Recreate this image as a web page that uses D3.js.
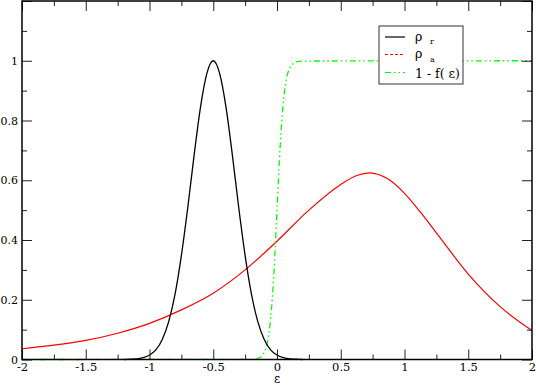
<!DOCTYPE html>
<html>
<head>
<meta charset="utf-8">
<script src="https://cdn.jsdelivr.net/npm/d3@7"></script>
<style>
  body { margin: 0; background: #fff; }
  svg { display: block; font-family: "DejaVu Serif", serif; }
</style>
</head>
<body>
<svg id="chart" width="536" height="385"></svg>
<script>
// rho_r (black)
const rhoRX = [-1.2, -1.15, -1.1, -1.05, -1.0, -0.95, -0.9, -0.85, -0.8, -0.75, -0.7, -0.65, -0.6, -0.55, -0.5,
  -0.45, -0.4, -0.35, -0.3, -0.25, -0.2, -0.15, -0.1, -0.05, 0.0, 0.05, 0.1, 0.15, 0.2]
const rhoRY = [0, 0.001, 0.002, 0.006, 0.015, 0.032, 0.067, 0.126, 0.218, 0.348, 0.508, 0.684, 0.845, 0.958, 1.0,
  0.958, 0.845, 0.684, 0.508, 0.348, 0.218, 0.126, 0.067, 0.032, 0.015, 0.006, 0.002, 0.001, 0]

// rho_a (red)
const rhoAX = [-2, -1.75, -1.5, -1.25, -1, -0.75, -0.5, -0.25, 0, 0.25, 0.5, 0.625, 0.725, 0.875, 1, 1.125, 1.25, 1.5, 1.75, 2]
const rhoAY = [0.036, 0.048, 0.064, 0.088, 0.121, 0.166, 0.222, 0.300, 0.396, 0.500, 0.586, 0.616, 0.625, 0.603, 0.556, 0.493, 0.424, 0.286, 0.177, 0.097]

// 1 - f(eps) (green)
const fermiX = [-2, -0.2, -0.175, -0.15, -0.125, -0.1, -0.075, -0.05, -0.025, 0, 0.025, 0.05, 0.075, 0.1, 0.125, 0.15, 0.175, 0.2, 2]
const fermiY = [0, 0.0006, 0.0015, 0.0038, 0.0097, 0.024, 0.059, 0.136, 0.284, 0.5, 0.716, 0.864, 0.941, 0.976, 0.99, 0.996, 0.998, 0.999, 1]

const xMajor = [-2, -1.5, -1, -0.5, 0, 0.5, 1, 1.5, 2]
const xMinor = [-1.75, -1.25, -0.75, -0.25, 0.25, 0.75, 1.25, 1.75]
const yMajor = [0, 0.2, 0.4, 0.6, 0.8, 1, 1.2]
const yMinor = [0.1, 0.3, 0.5, 0.7, 0.9, 1.1]
const yLabels = [0, 0.2, 0.4, 0.6, 0.8, 1]

const serif = '"DejaVu Serif", serif'

const svg = d3.select('#chart')
const pLeft = 22, pRight = 532, pTop = 1, pBottom = 359.5

const x = d3.scaleLinear().domain([-2, 2]).range([pLeft, pRight])
const y = d3.scaleLinear().domain([0, 1.2]).range([pBottom, pTop])

const toPts = (xs, ys) => xs.map((d, i) => [d, ys[i]])
const line = d3.line().x((d) => x(d[0])).y((d) => y(d[1])).curve(d3.curveMonotoneX)

const plot = svg.append('g')

plot.append('path')
  .attr('d', line(toPts(rhoAX, rhoAY)))
  .attr('fill', 'none').attr('stroke', '#ff0000').attr('stroke-width', 1.2)

plot.append('path')
  .attr('d', line(toPts(fermiX, fermiY)))
  .attr('fill', 'none').attr('stroke', '#00ff00').attr('stroke-width', 1.3)
  .attr('stroke-dasharray', '6,3,1.5,3,1.5,3')

plot.append('path')
  .attr('d', line(toPts(rhoRX, rhoRY)))
  .attr('fill', 'none').attr('stroke', '#000').attr('stroke-width', 1.3)

// axes, ticks point inward on all four sides
const fmt = (d) => String(d)
const axes = svg.append('g').attr('class', 'axes')

function styleAxis(g, size) {
  g.select('.domain').remove()
  g.selectAll('line').attr('stroke', '#222').attr('stroke-width', 1)
  g.selectAll('text').attr('fill', '#000').style('font-size', `${size || 11.5}px`)
    .style('font-family', serif)
}

axes.append('g').attr('transform', `translate(0,${pBottom})`)
  .call(d3.axisBottom(x).tickValues(xMajor).tickSize(-10).tickPadding(3.5).tickFormat(fmt)).call(styleAxis, 11.5)
axes.append('g').attr('transform', `translate(0,${pBottom})`)
  .call(d3.axisBottom(x).tickValues(xMinor).tickSize(-5).tickFormat('')).call(styleAxis)
axes.append('g').attr('transform', `translate(0,${pTop})`)
  .call(d3.axisTop(x).tickValues(xMajor).tickSize(-10).tickFormat('')).call(styleAxis)
axes.append('g').attr('transform', `translate(0,${pTop})`)
  .call(d3.axisTop(x).tickValues(xMinor).tickSize(-5).tickFormat('')).call(styleAxis)

axes.append('g').attr('transform', `translate(${pLeft},0)`)
  .call(d3.axisLeft(y).tickValues(yMajor).tickSize(-10).tickPadding(4)
    .tickFormat((d) => (yLabels.includes(d) ? fmt(d) : ''))).call(styleAxis, 11)
axes.append('g').attr('transform', `translate(${pLeft},0)`)
  .call(d3.axisLeft(y).tickValues(yMinor).tickSize(-5).tickFormat('')).call(styleAxis)
axes.append('g').attr('transform', `translate(${pRight},0)`)
  .call(d3.axisRight(y).tickValues(yMajor).tickSize(-10).tickFormat('')).call(styleAxis)
axes.append('g').attr('transform', `translate(${pRight},0)`)
  .call(d3.axisRight(y).tickValues(yMinor).tickSize(-5).tickFormat('')).call(styleAxis)

// frame
svg.append('rect')
  .attr('x', pLeft).attr('y', pTop)
  .attr('width', pRight - pLeft).attr('height', pBottom - pTop)
  .attr('fill', 'none').attr('stroke', '#000').attr('stroke-width', 1.5)

svg.append('text')
  .attr('x', (pLeft + pRight) / 2).attr('y', 382.5)
  .attr('text-anchor', 'middle').style('font-size', '12px').style('font-family', serif)
  .text('ε')

// legend
const legend = svg.append('g')
legend.append('rect')
  .attr('x', 379).attr('y', 26).attr('width', 84).attr('height', 58)
  .attr('fill', '#fff').attr('stroke', '#333').attr('stroke-width', 1)

const legendItems = [
  { name: 'ρ', sub: 'r', color: '#000', dash: null, ly: 37, ty: 40.5 },
  { name: 'ρ', sub: 'a', color: '#ff0000', dash: '3,2', ly: 54.5, ty: 58 },
  { name: '1 - f( ε)', sub: null, color: '#00ff00', dash: '6,3,1.5,3,1.5,3', ly: 72.5, ty: 77.5 },
]

legendItems.forEach((d) => {
  legend.append('line')
    .attr('x1', 385).attr('x2', 405).attr('y1', d.ly).attr('y2', d.ly)
    .attr('stroke', d.color).attr('stroke-width', 1.2)
    .attr('stroke-dasharray', d.dash)
  const t = legend.append('text')
    .attr('x', 415).attr('y', d.ty).style('font-size', '12.5px').style('font-family', serif)
  t.append('tspan').text(d.name)
  if (d.sub) {
    t.append('tspan').attr('x', 430).attr('y', d.ty + 3.5)
      .style('font-size', '8px').text(d.sub)
  }
})
</script>
</body>
</html>
